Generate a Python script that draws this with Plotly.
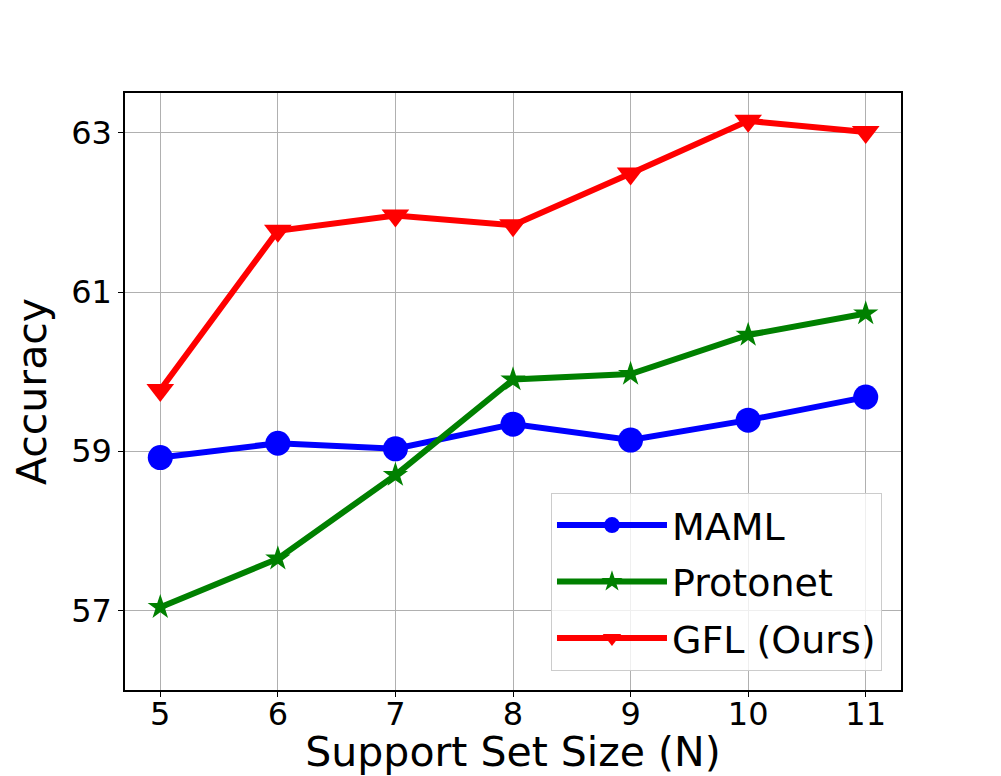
import plotly.graph_objects as go

# Données
support_size = [5, 6, 7, 8, 9, 10, 11]
maml = [58.92, 59.10, 59.03, 59.34, 59.14, 59.39, 59.68]
protonet = [57.04, 57.65, 58.70, 59.90, 59.97, 60.46, 60.73]
gfl = [59.77, 61.77, 61.96, 61.84, 62.49, 63.15, 63.01]

y_ticks = [57, 59, 61, 63]

FONT = "DejaVu Sans"

fig = go.Figure()

series = [
    ("MAML", maml, "#0000ff", "circle", 25),
    ("Protonet", protonet, "#008000", "star", 19),
    ("GFL (Ours)", gfl, "#ff0000", "triangle-down", 24),
]

for nom, vals, couleur, symbole, taille in series:
    fig.add_trace(go.Scatter(
        x=support_size,
        y=vals,
        mode="lines+markers",
        name=nom,
        legendgroup=nom,
        line=dict(color=couleur, width=6),
        marker=dict(symbol=symbole, size=taille, color=couleur),
    ))

# la page a une marge de 8 px autour du graphique
fig.update_layout(
    width=993,
    height=768,
    margin=dict(l=117, r=100, t=85, b=86),
    paper_bgcolor="white",
    plot_bgcolor="white",
    font=dict(family=FONT, color="black", size=32),
    legend=dict(
        x=0.9755, y=0.032,
        xanchor="right", yanchor="bottom",
        bgcolor="rgba(255,255,255,0.8)",
        bordercolor="#cccccc",
        borderwidth=1,
        font=dict(family=FONT, size=38),
        traceorder="grouped",
        tracegroupgap=4,
        itemwidth=110,
        entrywidth=245,
    ),
)

fig.update_xaxes(
    range=[4.7, 11.3],
    tickvals=support_size,
    showgrid=True, gridcolor="#b0b0b0", gridwidth=1.2,
    showline=True, linecolor="black", linewidth=1.5, mirror=True,
    ticks="outside", ticklen=5, tickwidth=1.3, tickcolor="black",
    tickfont=dict(size=32), ticklabelstandoff=-10,
    zeroline=False, automargin=False,
    title=dict(text="Support Set Size (N)", font=dict(size=41), standoff=6),
)
fig.update_yaxes(
    range=[56, 63.5],
    tickvals=y_ticks,
    showgrid=True, gridcolor="#b0b0b0", gridwidth=1.2,
    showline=True, linecolor="black", linewidth=1.5, mirror=True,
    ticks="outside", ticklen=5, tickwidth=1.3, tickcolor="black",
    tickfont=dict(size=32),
    zeroline=False, automargin=False,
    title=dict(text="Accuracy", font=dict(size=41), standoff=12),
)

fig.write_html("out.html")
